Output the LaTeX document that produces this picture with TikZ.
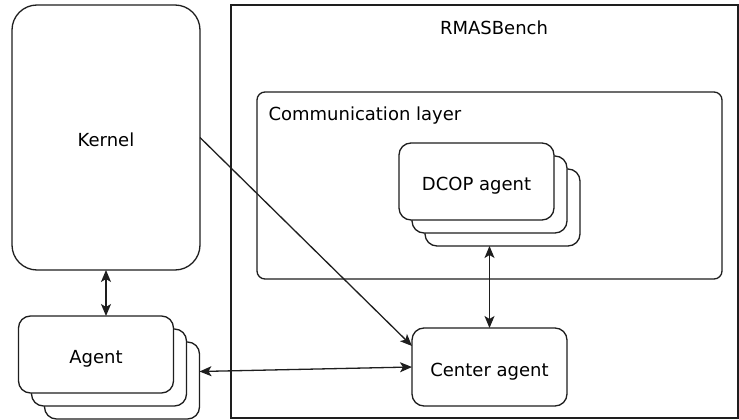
\documentclass[tikz,border=0pt]{standalone}
\usepackage{fontspec}
\setmainfont{DejaVu Sans}
\usetikzlibrary{arrows.meta,positioning}
\definecolor{linegray}{RGB}{30,30,30}
\tikzset{
  plain box/.style={
    rectangle, draw=linegray, line width=1.3pt, fill=white,
    inner sep=0pt, outer sep=0pt, font=\fontsize{18}{22}\selectfont,
    text height=18pt, text depth=0pt
  },
  agent box/.style={
    plain box, rounded corners=12pt,
    minimum width=155pt, minimum height=77pt
  },
  link arrow/.style={{Stealth[length=12pt,width=10pt,inset=3pt]}-{Stealth[length=12pt,width=10pt,inset=3pt]},
    line width=1.3pt, linegray},
  one arrow/.style={-{Stealth[length=12pt,width=10pt,inset=3pt]}, line width=1.3pt, linegray}
}

\begin{document}
\begin{tikzpicture}[x=1pt, y=-1pt]
    \useasboundingbox (0,0) rectangle (739,419.5);
    % platform side
    \node[plain box, rounded corners=25pt, minimum width=188pt, minimum height=265pt]
      (kernel) at (106,137.5) {Kernel};
    \node[agent box] (agent3) at (122,380.5) {};
    \node[agent box] (agent2) at (109,367.5) {};
    \node[agent box] (agent) at (96,354.5) {Agent};
    % benchmark side
    \node[plain box, minimum width=507pt, minimum height=413pt] (bench) at (484.5,211.5) {};
    \node[font=\fontsize{18}{22}\selectfont] (benchlabel) at (494,28) {RMASBench};
    \node[plain box, rounded corners=8pt, minimum width=465pt, minimum height=187pt]
      (comm) at (489.5,185.5) {};
    \node[font=\fontsize{18}{22}\selectfont, anchor=west] (commlabel) at (265,116) {Communication layer};
    \node[agent box] (dcop3) at (502.5,207.5) {};
    \node[agent box] (dcop2) at (489.5,194.5) {};
    \node[agent box] (dcop) at (476.5,181.5) {DCOP agent};
    \node[agent box, minimum height=78pt] (center) at (489.5,367) {Center agent};
    % connectors
    \draw[link arrow] (kernel.south) -- (kernel.south |- agent.north);
    \draw[link arrow] (center.north) -- (center.north |- dcop3.south);
    \draw[one arrow] (kernel.east) -- ([yshift=21pt]center.west);
    \draw[link arrow] ([yshift=9pt]agent3.east) -- (center.west);
  \end{tikzpicture}
\end{document}
